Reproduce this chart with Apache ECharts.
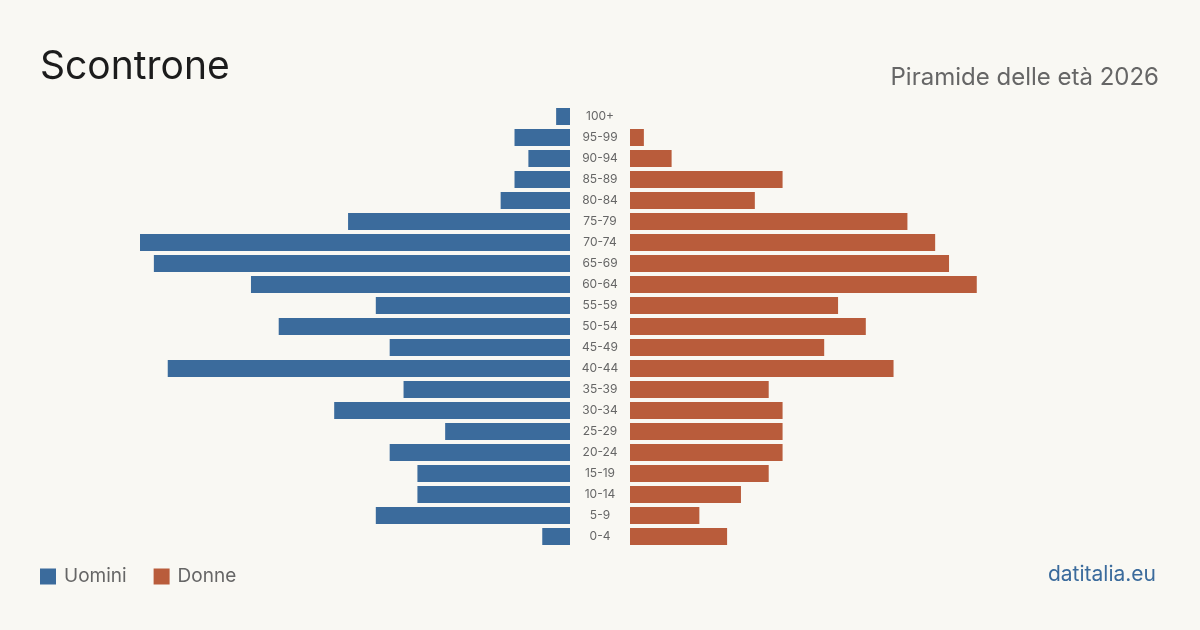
<!DOCTYPE html>
<html>
<head>
<meta charset="utf-8">
<script src="https://cdn.jsdelivr.net/npm/echarts@6/dist/echarts.min.js"></script>
<style>
html,body{margin:0;padding:0;background:#f9f8f3;}
#c{width:1200px;height:630px;}
</style>
</head>
<body>
<div id="c"></div>
<script>
const categories = ['100+','95-99','90-94','85-89','80-84','75-79','70-74','65-69','60-64','55-59','50-54','45-49','40-44','35-39','30-34','25-29','20-24','15-19','10-14','5-9','0-4'];
const uomini = [1,4,3,4,5,16,31,30,23,14,21,13,29,12,17,9,13,11,11,14,2];
const donne  = [0,1,3,11,9,20,22,23,25,15,17,14,19,10,11,11,11,10,8,5,7];
const axisMax = 31;

const FONT = 'Inter, "Noto Sans", sans-serif';
const BLUE = '#3b6b9c';
const ORANGE = '#b95c3b';

const chart = echarts.init(document.getElementById('c'), null, {renderer:'canvas'});
chart.setOption({
  backgroundColor: '#f9f8f3',
  animation: false,
  textStyle: {fontFamily: FONT},
  title: [
    {text: 'Scontrone', left: 35, top: 43, textStyle: {fontFamily: FONT, fontSize: 39, fontWeight: 'normal', color: '#1c1c1c'}},
    {text: 'Piramide delle età 2026', right: 36, top: 61, textStyle: {fontFamily: FONT, fontSize: 24, fontWeight: 'normal', color: '#666666'}}
  ],
  legend: {
    left: 35, top: 562,
    icon: 'rect', itemWidth: 16, itemHeight: 16, itemGap: 27,
    textStyle: {fontFamily: FONT, fontSize: 19, color: '#666666', padding: [0,0,0,3]},
    data: ['Uomini','Donne']
  },
  graphic: [
    {type: 'text', right: 44, top: 564, style: {text: 'datitalia.eu', font: '21px ' + FONT, fill: BLUE}}
  ],
  grid: [
    {left: 140, width: 430, top: 106, height: 441},
    {left: 630, width: 430, top: 106, height: 441}
  ],
  xAxis: [
    {gridIndex: 0, type: 'value', min: 0, max: axisMax, inverse: true, show: false, splitLine: {show: false}},
    {gridIndex: 1, type: 'value', min: 0, max: axisMax, show: false, splitLine: {show: false}}
  ],
  yAxis: [
    {gridIndex: 0, type: 'category', data: categories, inverse: true, show: false},
    {gridIndex: 1, type: 'category', data: categories, inverse: true,
      axisLine: {show: false}, axisTick: {show: false},
      axisLabel: {show: true, margin: 30, align: 'center', fontFamily: FONT, fontSize: 12, color: '#666666', padding: [3,0,0,0]}}
  ],
  series: [
    {name: 'Uomini', type: 'bar', xAxisIndex: 0, yAxisIndex: 0, data: uomini, barWidth: 17, itemStyle: {color: BLUE}},
    {name: 'Donne', type: 'bar', xAxisIndex: 1, yAxisIndex: 1, data: donne, barWidth: 17, itemStyle: {color: ORANGE}}
  ]
});
</script>
</body>
</html>
